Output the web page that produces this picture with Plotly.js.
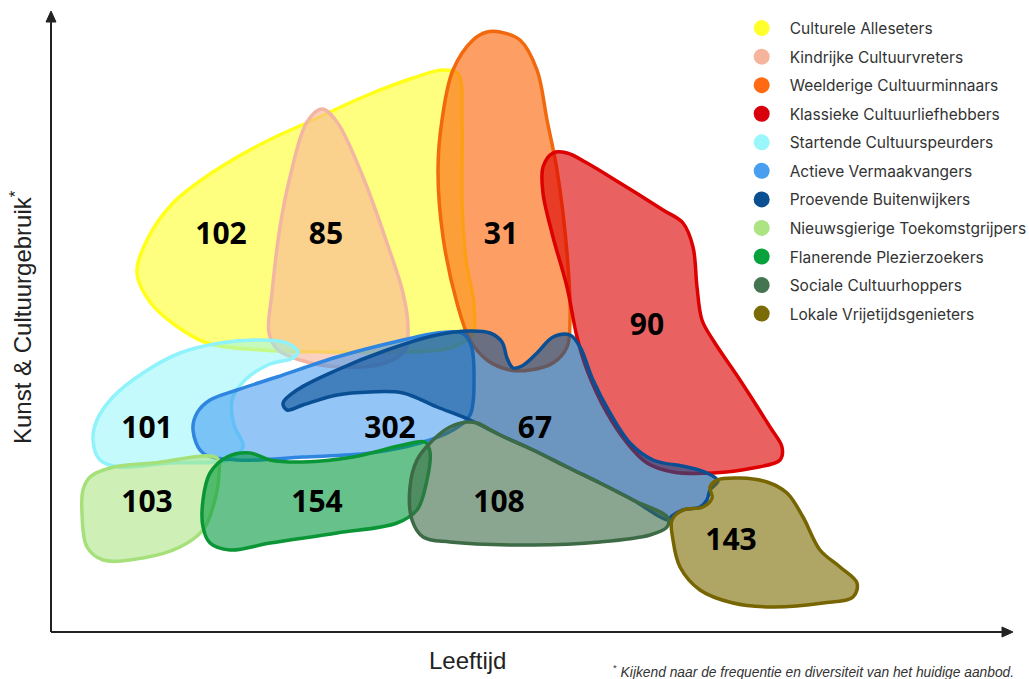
<!DOCTYPE html>
<html>
<head>
<meta charset="utf-8">
<script src="https://cdn.plot.ly/plotly-3.0.1.min.js"></script>
<style>html,body{margin:0;padding:0;background:#fff;}#chart{width:1029px;height:679px;}</style>
</head>
<body>
<div id="chart"></div>
<script>
// ---- data (in picture units: x to the right, y downward) ----
const segmentNames = [
  "Culturele Alleseters", "Kindrijke Cultuurvreters", "Weelderige Cultuurminnaars",
  "Klassieke Cultuurliefhebbers", "Startende Cultuurspeurders", "Actieve Vermaakvangers",
  "Proevende Buitenwijkers", "Nieuwsgierige Toekomstgrijpers", "Flanerende Plezierzoekers",
  "Sociale Cultuurhoppers", "Lokale Vrijetijdsgenieters"
];
const segmentCounts = [102, 85, 31, 90, 101, 302, 67, 103, 154, 108, 143];
const segmentColors = ["#ffff2e", "#f6b49c", "#ff6a13", "#d8000c", "#99f6fb", "#4a9ef0",
                       "#0b4f91", "#ace483", "#07a23c", "#457550", "#7a6b06"];

const outlineAlleseters = [[137,273],[147,240],[173,203],[213,172],[263,143],[313,120],[363,97],[413,78],[443,70],[458,74],[462,120],[462,200],[466,260],[474,305],[472,335],[450,348],[400,352],[330,352],[260,350],[207,343],[175,325],[150,302]];
const outlineCultuurvreters = [[322,109],[337,122],[363,177],[387,243],[403,293],[408,327],[405,350],[385,363],[340,367],[300,360],[278,350],[269,333],[272,293],[280,227],[290,177],[307,122]];
const outlineCultuurminnaars = [[500,32],[520,40],[537,70],[547,120],[557,170],[567,253],[570,320],[567,347],[553,363],[530,370],[510,370],[487,360],[470,340],[457,303],[443,237],[438,170],[442,120],[453,70],[473,40],[487,32]];
const outlineCultuurliefhebbers = [[553,153],[543,167],[543,193],[553,237],[567,287],[577,337],[587,370],[607,413],[627,443],[647,463],[673,472],[713,473],[753,468],[780,460],[782,447],[770,427],[740,380],[713,340],[702,320],[697,287],[693,247],[683,223],[663,210],[620,183],[587,163],[567,153]];
const outlineCultuurspeurders = [[93,440],[97,420],[113,397],[143,373],[180,353],[220,343],[257,340],[287,343],[298,352],[293,358],[270,364],[245,380],[232,400],[234,425],[243,447],[227,460],[170,463],[120,467],[100,460]];
const outlineVermaakvangers = [[193,430],[197,413],[210,400],[237,390],[277,377],[337,357],[403,340],[437,333],[462,333],[471,345],[474,380],[470,415],[453,430],[420,443],[370,453],[303,457],[237,460],[203,453]];
const outlineBuitenwijkers = [[283,403],[297,390],[337,370],[387,350],[437,335],[470,331],[490,333],[502,342],[507,358],[513,368],[522,366],[537,353],[553,337],[570,335],[580,347],[593,380],[610,413],[630,443],[653,460],[687,467],[707,473],[718,481],[710,490],[707,500],[700,507],[683,510],[672,516],[668,520],[633,500],[600,483],[567,467],[533,450],[500,435],[470,420],[437,407],[403,393],[370,392],[337,395],[303,405],[287,410]];
const outlineToekomstgrijpers = [[90,477],[110,468],[153,463],[217,458],[219,473],[213,507],[203,530],[180,547],[143,558],[103,560],[87,547],[82,513],[83,490]];
const outlinePlezierzoekers = [[203,500],[210,473],[227,457],[250,453],[270,460],[303,462],[353,457],[403,445],[425,442],[430,452],[427,480],[417,510],[397,523],[337,533],[270,543],[230,550],[210,543],[203,527]];
const outlineCultuurhoppers = [[450,427],[467,422],[477,423],[500,435],[533,450],[567,467],[600,483],[633,500],[668,518],[667,527],[650,535],[600,542],[533,545],[450,542],[423,537],[412,520],[410,487],[417,460],[433,440]];
const outlineVrijetijdsgenieters = [[717,480],[740,478],[767,482],[787,493],[803,517],[820,550],[840,567],[857,583],[853,597],[823,603],[773,607],[733,603],[700,590],[680,567],[673,540],[672,520],[683,510],[703,507],[712,498],[710,487]];

const labelAt = [[221,236],[326,236],[501,236],[647,327],[147,430],[390,430],[535,430],[147,504],[317,504],[499,504],[731,542]];

// ---- styling ----
const outlines = [outlineAlleseters, outlineCultuurvreters, outlineCultuurminnaars, outlineCultuurliefhebbers,
  outlineCultuurspeurders, outlineVermaakvangers, outlineBuitenwijkers, outlineToekomstgrijpers,
  outlinePlezierzoekers, outlineCultuurhoppers, outlineVrijetijdsgenieters];
const lineColors = ["#ffff1a", "#f3b6a2", "#f2680c", "#dc0000", "#8ff3fb", "#2f86e0",
                    "#0a4f94", "#a5e07a", "#0a9636", "#3d6b45", "#766500"];
const fillColors = ["rgba(255,255,0,0.5)", "rgba(247,178,150,0.6)", "rgba(252,110,20,0.66)",
  "rgba(220,0,0,0.62)", "rgba(140,245,250,0.5)", "rgba(60,150,240,0.55)", "rgba(10,80,150,0.6)",
  "rgba(166,226,122,0.55)", "rgba(0,154,60,0.6)", "rgba(61,107,70,0.6)", "rgba(122,106,0,0.6)"];

const traces = [];
outlines.forEach(function (pts, i) {
  const xs = pts.map(p => p[0]); const ys = pts.map(p => p[1]);
  xs.push(pts[0][0]); ys.push(pts[0][1]);
  traces.push({
    type: "scatter", mode: "lines", x: xs, y: ys, fill: "toself",
    fillcolor: fillColors[i], line: {color: lineColors[i], width: 3.5, shape: "spline", smoothing: 1},
    hoverinfo: "skip", showlegend: false, name: segmentNames[i]
  });
});
traces.push({
  type: "scatter", mode: "text",
  x: labelAt.map(p => p[0]), y: labelAt.map(p => p[1]),
  text: segmentCounts.map(String), textposition: "middle center",
  textfont: {family: "Open Sans, Liberation Sans, sans-serif", size: 30, color: "#000", weight: "bold"},
  hoverinfo: "skip", showlegend: false
});
segmentNames.forEach(function (n, i) {
  traces.push({
    type: "scatter", mode: "markers", x: [null], y: [null], name: n,
    legendgroup: "g" + i, marker: {size: 16, color: segmentColors[i]}, showlegend: true
  });
});

const layout = {
  width: 1029, height: 679,
  margin: {l: 0, r: 0, t: 0, b: 0, pad: 0, autoexpand: false},
  paper_bgcolor: "#ffffff", plot_bgcolor: "#ffffff",
  xaxis: {range: [0, 1029], visible: false, fixedrange: true},
  yaxis: {range: [679, 0], visible: false, fixedrange: true},
  showlegend: true,
  legend: {
    x: 0.713, xanchor: "left", y: 0.983, yanchor: "top",
    traceorder: "grouped", tracegroupgap: 5.4, itemwidth: 46,
    font: {family: "Inter, Lato, sans-serif", size: 15.5, color: "#333"},
    bgcolor: "rgba(0,0,0,0)"
  },
  shapes: [
    {type: "line", xref: "x", yref: "y", x0: 51, y0: 632, x1: 1004, y1: 632, line: {color: "#222", width: 2}},
    {type: "line", xref: "x", yref: "y", x0: 51, y0: 632, x1: 51, y1: 20, line: {color: "#222", width: 2}},
    {type: "path", xref: "x", yref: "y", path: "M 1013 632 L 1002 627 L 1002 637 Z",
     fillcolor: "#222", line: {color: "#222", width: 1}},
    {type: "path", xref: "x", yref: "y", path: "M 51 11 L 46 22 L 56 22 Z",
     fillcolor: "#222", line: {color: "#222", width: 1}}
  ],
  annotations: [
    {x: 467, y: 660, xref: "x", yref: "y", showarrow: false, text: "Leeftijd",
     font: {family: "Liberation Sans, Arial, sans-serif", size: 24, color: "#222"}},
    {x: 21, y: 317, xref: "x", yref: "y", showarrow: false, textangle: -90,
     text: "Kunst & Cultuurgebruik<sup>*</sup>",
     font: {family: "Liberation Sans, Arial, sans-serif", size: 24, color: "#222"}},
    {x: 1016, y: 660, xref: "x", yref: "y", xanchor: "right", yanchor: "top", showarrow: false,
     text: "<sup>*</sup> <i>Kijkend naar de frequentie en diversiteit van het huidige aanbod.</i>",
     font: {family: "Liberation Sans, Arial, sans-serif", size: 13.8, color: "#333"}}
  ]
};

Plotly.newPlot("chart", traces, layout, {staticPlot: true, displayModeBar: false});
</script>
</body>
</html>
